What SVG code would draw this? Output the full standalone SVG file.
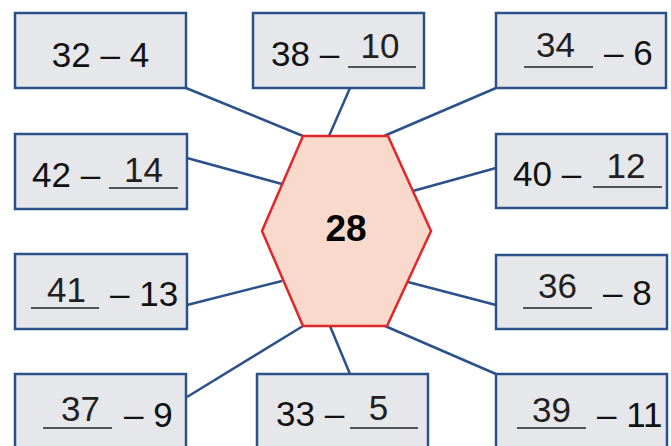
<svg xmlns="http://www.w3.org/2000/svg" width="671" height="446" viewBox="0 0 671 446">
<style>
.box{fill:#e6e7eb;stroke:#2a5189;stroke-width:2.5}
.c{stroke:#2a5189;stroke-width:2.5;fill:none}
.t{font-family:"Liberation Sans",Arial,sans-serif;font-size:35px;fill:#111}
.a{font-family:"Liberation Sans",Arial,sans-serif;font-size:35px;fill:#231f20;text-anchor:middle}
.m{text-anchor:middle}
.u{stroke:#222;stroke-width:1.3}
.hex{fill:#f9d9cb;stroke:#e3262b;stroke-width:2.5}
</style>
<rect width="671" height="446" fill="#fff"/>
<g id="connectors">
<line class="c" x1="186" y1="88" x2="303" y2="136"/>
<line class="c" x1="350" y1="88" x2="329" y2="136"/>
<line class="c" x1="496" y1="88" x2="384" y2="136"/>
<line class="c" x1="187" y1="158" x2="282" y2="184"/>
<line class="c" x1="496" y1="168" x2="413" y2="191"/>
<line class="c" x1="187" y1="305" x2="282" y2="281"/>
<line class="c" x1="496" y1="305" x2="408" y2="282"/>
<line class="c" x1="187" y1="397" x2="303" y2="326"/>
<line class="c" x1="350" y1="374" x2="330" y2="326"/>
<line class="c" x1="496" y1="374" x2="385" y2="326"/>
</g>
<g id="center">
<polygon class="hex" points="303,136 388,136 431,231 387,326 303,326 262,231"/>
<text x="346" y="241" class="t m" style="font-weight:bold;fill:#000;font-size:37px">28</text>
</g>
<g id="n1">
<rect class="box" x="15" y="13" width="171" height="75"/>
<text x="100.5" y="67" class="t m">32 – 4</text>
</g>
<g id="n2">
<rect class="box" x="253" y="13" width="171" height="75"/>
<text x="271" y="66" class="t">38 –</text>
<line class="u" x1="348" y1="67" x2="416" y2="67"/>
<text x="380" y="58" class="a">10</text>
</g>
<g id="n3">
<rect class="box" x="496" y="13" width="170" height="75"/>
<line class="u" x1="524" y1="67" x2="593" y2="67"/>
<text x="555.5" y="57" class="a">34</text>
<text x="604" y="65" class="t">– 6</text>
</g>
<g id="n4">
<rect class="box" x="15" y="134" width="172" height="75"/>
<text x="32" y="187" class="t">42 –</text>
<line class="u" x1="109" y1="188" x2="178" y2="188"/>
<text x="143.5" y="182" class="a">14</text>
</g>
<g id="n5">
<rect class="box" x="496" y="134" width="171" height="74"/>
<text x="513" y="186" class="t">40 –</text>
<line class="u" x1="593" y1="187" x2="662" y2="187"/>
<text x="626" y="178" class="a">12</text>
</g>
<g id="n6">
<rect class="box" x="15" y="254" width="172" height="75"/>
<line class="u" x1="31" y1="308" x2="99" y2="308"/>
<text x="66.5" y="302" class="a">41</text>
<text x="110" y="306" class="t">– 13</text>
</g>
<g id="n7">
<rect class="box" x="496" y="255" width="171" height="74"/>
<line class="u" x1="523" y1="308" x2="592" y2="308"/>
<text x="557.5" y="298" class="a">36</text>
<text x="603" y="305" class="t">– 8</text>
</g>
<g id="n8">
<rect class="box" x="15" y="374" width="171" height="75"/>
<line class="u" x1="43" y1="428" x2="112" y2="428"/>
<text x="80.5" y="421" class="a">37</text>
<text x="124" y="427" class="t">– 9</text>
</g>
<g id="n9">
<rect class="box" x="257" y="374" width="171" height="75"/>
<text x="276" y="426" class="t">33 –</text>
<line class="u" x1="350" y1="428" x2="418" y2="428"/>
<text x="378.5" y="420" class="a">5</text>
</g>
<g id="n10">
<rect class="box" x="496" y="374" width="171" height="75"/>
<line class="u" x1="517" y1="428" x2="586" y2="428"/>
<text x="551.5" y="422" class="a">39</text>
<text x="597" y="427" class="t">– 11</text>
</g>
</svg>
